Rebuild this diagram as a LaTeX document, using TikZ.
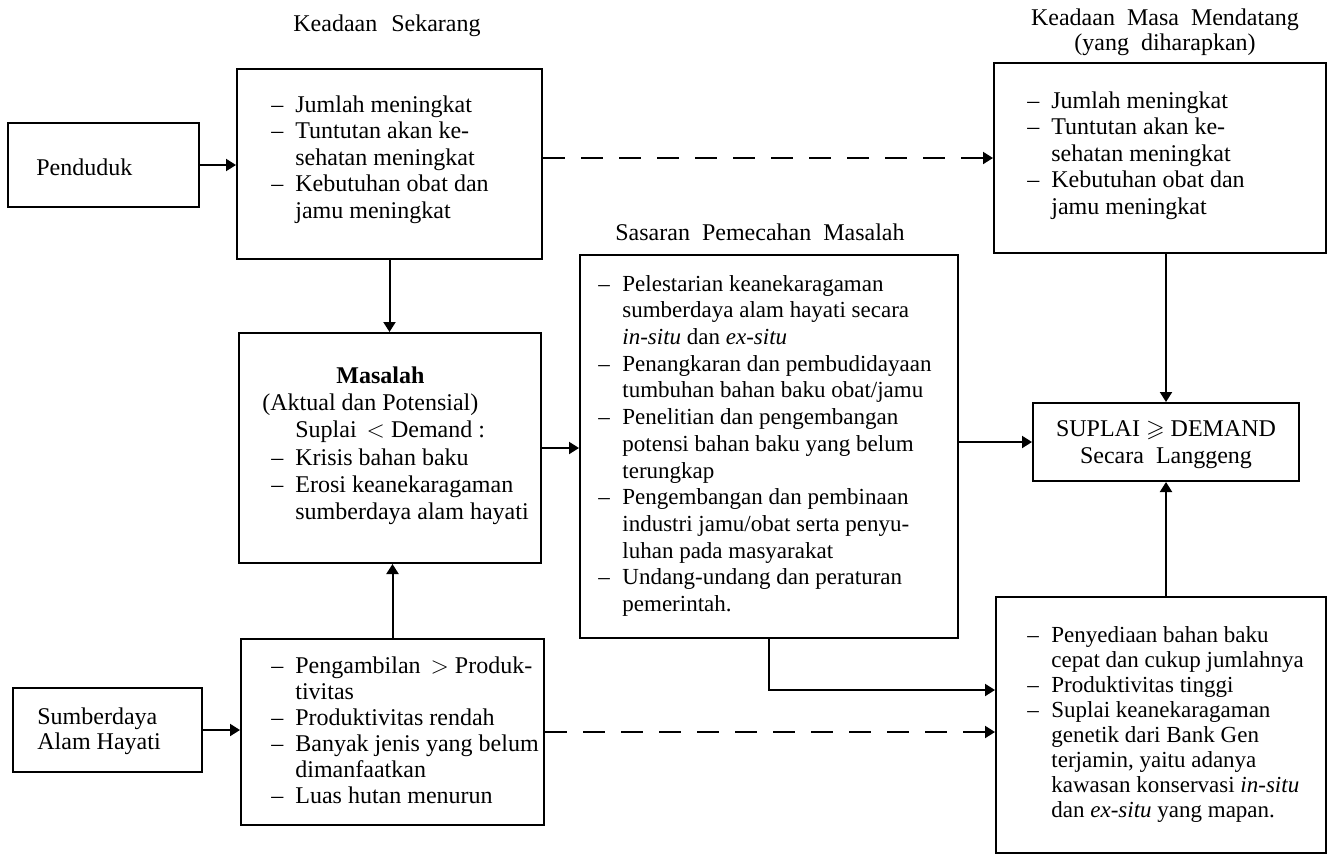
\documentclass[tikz,border=0pt]{standalone}
\usepackage{amssymb}
\usepackage{fontspec}
\setmainfont{Liberation Serif}
\usepackage{tikz}
\usetikzlibrary{arrows.meta,positioning,fit}

\tikzset{
    kotak/.style={draw, line width=1pt, inner sep=0pt},
    isi/.style={inner sep=0pt, anchor=north west, align=left},
    judul/.style={inner sep=0pt, anchor=base},
    panah/.style={line width=1pt, -{Triangle[length=5pt,width=6pt]}},
    panahputus/.style={panah, dash pattern=on 11pt off 8pt}
}
\newcommand{\butir}{\makebox[12pt][l]{--}}
\newcommand{\lanjut}{\hspace*{12pt}}
\newcommand{\huruf}[2]{\fontsize{#1}{#2}\selectfont}

\begin{document}
\begin{tikzpicture}[x=0.5pt, y=-0.5pt, font=\huruf{12}{13.3}]
    \useasboundingbox (0,0) rectangle (1328,858);

    % Judul kolom
    \node[judul] (jSekarang) at (387,31) {Keadaan\hspace{4pt} Sekarang};
    \node[judul] (jMasa) at (1165,25) {Keadaan\hspace{3pt} Masa\hspace{3pt} Mendatang};
    \node[judul] (jHarap) at (1165,50) {(yang\hspace{3pt} diharapkan)};
    \node[judul] (jSasaran) at (760,240) {Sasaran\hspace{3pt} Pemecahan\hspace{3pt} Masalah};

    % Kotak
    \node[kotak, fit={(8,123) (199,207)}] (penduduk) {};
    \node[kotak, fit={(237,69) (542,259)}] (sekarang) {};
    \node[kotak, fit={(994,63) (1326,253)}] (mendatang) {};
    \node[kotak, fit={(239,333) (541,563)}] (masalah) {};
    \node[kotak, fit={(580,255) (958,638)}] (sasaran) {};
    \node[kotak, fit={(1033,403) (1299,481)}] (suplai) {};
    \node[kotak, fit={(241,639) (544,825)}] (kondisi) {};
    \node[kotak, fit={(13,688) (202,772)}] (sumber) {};
    \node[kotak, fit={(996,597) (1326,853)}] (harapan) {};

    % Isi kotak
    \node[judul, anchor=base west] (tPenduduk) at (36,175) {Penduduk};
    \node[isi] (tSekarang) at (271,93) {\strut\butir Jumlah meningkat\\
        \butir Tuntutan akan ke-\\ \lanjut sehatan meningkat\\
        \butir Kebutuhan obat dan\\ \lanjut jamu meningkat};
    \node[isi] (tMendatang) at (1027,89) {\strut\butir Jumlah meningkat\\
        \butir Tuntutan akan ke-\\ \lanjut sehatan meningkat\\
        \butir Kebutuhan obat dan\\ \lanjut jamu meningkat};
    \node[isi, font=\huruf{12}{13.6}] (tMasalah) at (262,364) {\strut\hspace*{37pt}\textbf{Masalah}\\
        (Aktual dan Potensial)\\
        \hspace*{16.5pt}Suplai\, $<$ Demand :\\
        \hspace*{4.5pt}\butir Krisis bahan baku\\
        \hspace*{4.5pt}\butir Erosi keanekaragaman\\
        \hspace*{16.5pt}sumberdaya alam hayati};
    \node[isi, font=\huruf{11.5}{13.35}] (tSasaran) at (598,272) {\strut\butir Pelestarian keanekaragaman\\
        \lanjut sumberdaya alam hayati secara\\
        \lanjut \textit{in-situ} dan \textit{ex-situ}\\
        \butir Penangkaran dan pembudidayaan\\
        \lanjut tumbuhan bahan baku obat/jamu\\
        \butir Penelitian dan pengembangan\\
        \lanjut potensi bahan baku yang belum\\
        \lanjut terungkap\\
        \butir Pengembangan dan pembinaan\\
        \lanjut industri jamu/obat serta penyu-\\
        \lanjut luhan pada masyarakat\\
        \butir Undang-undang dan peraturan\\
        \lanjut pemerintah.};
    \node[isi, align=center, anchor=north, font=\huruf{12}{13.5}] (tSuplai) at (suplai.north |- 0,417)
        {\strut SUPLAI $\geqslant$ DEMAND\\ Secara\hspace{3pt} Langgeng};
    \node[isi, font=\huruf{12}{13}] (tKondisi) at (271,655) {\strut\butir Pengambilan\, $>$ Produk-\\
        \lanjut tivitas\\
        \butir Produktivitas rendah\\
        \butir Banyak jenis yang belum\\
        \lanjut dimanfaatkan\\
        \butir Luas hutan menurun};
    \node[isi, font=\huruf{12}{12.5}] (tSumber) at (37,707) {\strut Sumberdaya\\ Alam Hayati};
    \node[isi, font=\huruf{11.5}{12.5}] (tHarapan) at (1027,625) {\strut\butir Penyediaan bahan baku\\
        \lanjut cepat dan cukup jumlahnya\\
        \butir Produktivitas tinggi\\
        \butir Suplai keanekaragaman\\
        \lanjut genetik dari Bank Gen\\
        \lanjut terjamin, yaitu adanya\\
        \lanjut kawasan konservasi \textit{in-situ}\\
        \lanjut dan \textit{ex-situ} yang mapan.};

    % Panah
    \coordinate (belok) at (0,690);
    \draw[panah] (penduduk.east) -- (penduduk.east -| sekarang.west);
    \draw[panahputus] (sekarang.east |- mendatang.west) -- (mendatang.west);
    \draw[panah] (sekarang.south) -- (sekarang.south |- masalah.north);
    \draw[panah] (kondisi.north) -- (kondisi.north |- masalah.south);
    \draw[panah] (masalah.east) -- (masalah.east -| sasaran.west);
    \draw[panah] (suplai.west -| sasaran.east) -- (suplai.west);
    \draw[panah] (suplai.north |- mendatang.south) -- (suplai.north);
    \draw[panah] (suplai.south |- harapan.north) -- (suplai.south);
    \draw[panah] (sumber.east) -- (sumber.east -| kondisi.west);
    \draw[panahputus] (kondisi.east) -- (kondisi.east -| harapan.west);
    \draw[panah] (sasaran.south) |- (belok -| harapan.west);
\end{tikzpicture}
\end{document}
